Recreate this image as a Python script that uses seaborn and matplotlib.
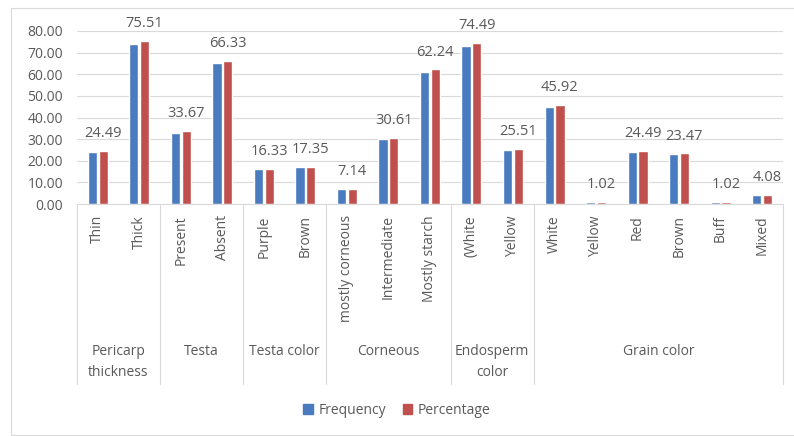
import pandas as pd
import matplotlib
matplotlib.use('Agg')
import matplotlib.pyplot as plt
import matplotlib.transforms as mtransforms
from matplotlib.patches import Rectangle
import seaborn as sns

# values (n = 98 samples)
items = ['Thin', 'Thick', 'Present', 'Absent', 'Purple', 'Brown',
         'mostly corneous', 'Intermediate', 'Mostly starch', '(White', 'Yellow',
         'White', 'Yellow', 'Red', 'Brown', 'Buff', 'Mixed']
frequency = [24, 74, 33, 65, 16, 17, 7, 30, 61, 73, 25, 45, 1, 24, 23, 1, 4]
percentage = [24.49, 75.51, 33.67, 66.33, 16.33, 17.35, 7.14, 30.61, 62.24,
              74.49, 25.51, 45.92, 1.02, 24.49, 23.47, 1.02, 4.08]
groups = ['Pericarp\nthickness', 'Testa', 'Testa color', 'Corneous',
          'Endosperm\ncolor', 'Grain color']
group_sizes = [2, 2, 2, 3, 2, 6]

keys = [f'{i}_{name}' for i, name in enumerate(items)]
df = pd.DataFrame({'key': keys * 2,
                   'value': frequency + percentage,
                   'series': ['Frequency'] * len(keys) + ['Percentage'] * len(keys)})

sns.set_style('white')
plt.rcParams['font.family'] = ['Open Sans', 'DejaVu Sans']
grey = '#595959'
fs = 10

fig = plt.figure(figsize=(7.94, 4.36), dpi=100)
ax = fig.add_axes([0.097, 0.532, 0.889, 0.397])

sns.barplot(data=df, x='key', y='value', hue='series', order=keys,
            palette=['#4A7BBF', '#C0504D'], width=0.52, gap=0.15,
            saturation=1, legend=False, ax=ax)

ax.set_ylim(0, 80)
ax.set_xlim(-0.5, len(keys) - 0.5)
ax.set_yticks(range(0, 81, 10))
ax.set_yticklabels([f'{v:.2f}' for v in range(0, 81, 10)], fontsize=fs, color=grey)
ax.yaxis.grid(True, color='#D9D9D9', linewidth=0.8)
ax.set_axisbelow(True)
for s in ['top', 'right', 'left']:
    ax.spines[s].set_visible(False)
ax.spines['bottom'].set_color('#D9D9D9')
ax.tick_params(axis='y', length=0, pad=10)
ax.tick_params(axis='x', length=0, pad=8)
ax.set_xlabel('')
ax.set_ylabel('')
ax.set_xticks(range(len(keys)))
ax.set_xticklabels(items, rotation=90, fontsize=fs, color=grey, va='top')

# value labels above the percentage bars
red_bars = ax.containers[1]
ax.bar_label(red_bars, labels=[f'{v:.2f}' for v in percentage],
             padding=7, fontsize=10.5, color=grey)

# group labels and separators under the axis
trans = mtransforms.blended_transform_factory(ax.transData, fig.transFigure)
start = 0
edges = [-0.5]
for name, size in zip(groups, group_sizes):
    centre = start + (size - 1) / 2
    fig.text(centre, 1 - 344 / 436, name, transform=trans, ha='center',
             va='top', fontsize=fs, color=grey, linespacing=1.55)
    start += size
    edges.append(start - 0.5)
for e in edges:
    ax.plot([e, e], [0.532, 1 - 384 / 436], transform=trans, color='#D9D9D9',
            linewidth=0.8, clip_on=False)

handles = [Rectangle((0, 0), 1, 1, color='#4A7BBF'), Rectangle((0, 0), 1, 1, color='#C0504D')]
fig.legend(handles, ['Frequency', 'Percentage'], loc='center',
           bbox_to_anchor=(0.5, 1 - 410 / 436), ncol=2, frameon=False,
           fontsize=fs, labelcolor=grey, handlelength=0.7, handleheight=0.7,
           columnspacing=1.2, handletextpad=0.4)

fig.patches.append(Rectangle((11 / 794, 0.002), 1, 1 - 8 / 436 - 0.002,
                             transform=fig.transFigure, fill=False,
                             edgecolor='#D9D9D9', linewidth=0.8))

fig.savefig('out.png', dpi=100)
